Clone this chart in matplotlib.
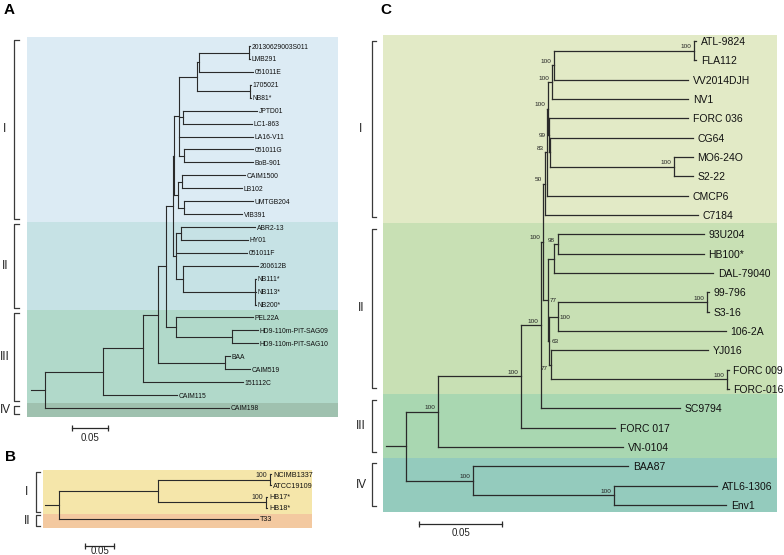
import matplotlib
matplotlib.use("Agg")
import matplotlib.pyplot as plt
import matplotlib.transforms as mtransforms
from matplotlib.collections import LineCollection

plt.rcParams['font.family'] = ['Liberation Sans', 'DejaVu Sans']

# ---------------------------------------------------------------- data
# Panel A clades (Newick pieces, branch lengths in substitutions/site)
A_P1 = "(20130629003S011:0.0014,LMB291:0.0014):0.0694"
A_P2 = "(1705021:0.0014,NB81*:0.0014):0.0736"
A_A1 = "((" + A_P1 + ",051011E:0.0750):0.0028," + A_P2 + "):0.0250"
A_JL = "(JPTD01:0.1028,LC1-863:0.0958):0.0056"
A_GB = "(051011G:0.0958,BoB-901:0.0958):0.0069"
A_IA = "(" + A_A1 + "," + A_JL + ",LA16-V11:0.1028," + A_GB + "):0.0069"
A_IB = "((CAIM1500:0.0875,LB102:0.0833):0.0056,(UMTGB204:0.0958,VIB391:0.0806):0.0083):0.0056"
A_I = "(" + A_IA + "," + A_IB + "):0.0014"
A_II = ("((ABR2-13:0.1028,HY01:0.0931):0.0069,051011F:0.0986,"
        "(200612B:0.1042,(NB111*:0.0014,NB113*:0.0014,NB200*:0.0014):0.1000):0.0097):0.0042")
A_PH = "(PEL22A:0.1069,(HD9-110m-PIT-SAG09:0.0361,HD9-110m-PIT-SAG10:0.0361):0.0778):0.0139"
A_BC = "(BAA:0.0069,CAIM519:0.0347):0.0931"
A_N4 = "((" + A_I + "," + A_II + "):0.0097," + A_PH + "):0.0111"
A_TREE = "((((" + A_N4 + "," + A_BC + "):0.0208,151112C:0.1389):0.0556,CAIM115:0.1028):0.0806,CAIM198:0.2556):0.0194;"
A_CLADES = ["I", "II", "III", "IV"]
A_CLADE_EDGES = [-0.7, 13.6, 20.45, 27.65, 28.7]

# Panel B
B_TREE = ("(((NCIMB1337:0.0017,ATCC19109:0.0017)100:0.1931,"
          "(HB17*:0.0017,HB18*:0.0017)100:0.1862):0.1707,T33:0.3431):0.0241;")
B_CLADES = ["I", "II"]
B_CLADE_EDGES = [-0.4, 3.55, 4.85]

# Panel C (support suffix: r = right of node, c = left-centre, b = left-below)
C_AF = "(ATL-9824:0.0013,FLA112:0.0013)100:0.0843"
C_V = "(" + C_AF + ",VV2014DJH:0.0807)100:0.0011"
C_W = "(" + C_V + ",NV1:0.0818)100:0.0027"
C_MS = "(MO6-24O:0.0114,S2-22:0.0114)100:0.0747"
C_K = "(FORC 036:0.0839,(CG64:0.0861," + C_MS + "):0.0006)99c:0.0006"
C_X = "(" + C_W + "," + C_K + ")100:0.0006"
C_I = "((" + C_X + ",CMCP6:0.0851)83:0.0012,C7184:0.0922)50:0.0009"
C_U = "((93U204:0.0881,HB100*:0.0881)98:0.0024,DAL-79040:0.0961):0.0031"
C_P = "((99-796:0.0010,S3-16:0.0010)100:0.0901,106-2A:0.1014)100r:0.0049"
C_R = "(YJ016:0.0946,(FORC 009:0.0010,FORC-016:0.0010)100:0.1062)77b:0.0009"
C_II = "(" + C_U + ",(" + C_P + "," + C_R + ")63r:0.0006)77r:0.0030"
C_NB = "((" + C_I + "," + C_II + ")100:0.0015,SC9794:0.0837)100:0.0120"
C_IV = "(BAA87:0.0934,(ATL6-1306:0.0620,Env1:0.0675)100:0.0849)100:0.0404"
C_TREE = "(((" + C_NB + ",FORC 017:0.0566)100:0.0500,VN-0104:0.1114)100:0.0193," + C_IV + "):0.0120;"
C_CLADES = ["I", "II", "III", "IV"]
C_CLADE_EDGES = [-0.31, 9.4, 18.27, 21.55, 24.36]

SCALE_LEN = 0.05

# ---------------------------------------------------------------- helpers
W_PX, H_PX = 784, 555
fig = plt.figure(figsize=(W_PX / 100, H_PX / 100), dpi=100)


def parse_newick(s):
    pos = [0]

    def node():
        n = {'children': [], 'name': '', 'length': 0.0}
        if s[pos[0]] == '(':
            pos[0] += 1
            while True:
                n['children'].append(node())
                ch = s[pos[0]]
                pos[0] += 1
                if ch == ')':
                    break
        st = pos[0]
        while s[pos[0]] not in ':,();':
            pos[0] += 1
        n['name'] = s[st:pos[0]].strip()
        if s[pos[0]] == ':':
            pos[0] += 1
            st = pos[0]
            while s[pos[0]] not in ',();':
                pos[0] += 1
            n['length'] = float(s[st:pos[0]])
        return n
    return node()


def layout(n, x, counter):
    n['x'] = x
    if not n['children']:
        n['y'] = counter[0]
        counter[0] += 1
    else:
        for c in n['children']:
            layout(c, x + c['length'], counter)
        n['y'] = (n['children'][0]['y'] + n['children'][-1]['y']) / 2.0


def walk(n, out):
    out.append(n)
    for c in n['children']:
        walk(c, out)
    return out


def px_axes(x0, y0, x1, y1):
    return fig.add_axes([x0 / W_PX, 1 - y1 / H_PX, (x1 - x0) / W_PX, (y1 - y0) / H_PX])


LINE = '#2a2a2a'


def draw_panel(box, newick, xlim, ylim, edges, colors, clades, lw, tip_fs, tip_off,
               sup_fs, br_x, lab_x, br_inset, bar_x, bar_y, bar_text_y, letter, letter_xy,
               num_fs):
    ax = px_axes(*box)
    ax.set_xlim(*xlim)
    ax.set_ylim(*ylim)
    ax.axis('off')
    for (y0, y1), col in zip(zip(edges[:-1], edges[1:]), colors):
        ax.axhspan(y0, y1, color=col, lw=0, zorder=0)

    tree = parse_newick(newick)
    layout(tree, 0.0, [0])
    segs = [[(-tree['length'], tree['y']), (0.0, tree['y'])]]
    for n in walk(tree, []):
        if n['children']:
            ys = [c['y'] for c in n['children']]
            segs.append([(n['x'], min(ys)), (n['x'], max(ys))])
            for c in n['children']:
                segs.append([(n['x'], c['y']), (c['x'], c['y'])])
            if n['name']:
                nm = n['name']
                side = nm[-1] if nm[-1] in 'rcb' else 'l'
                val = nm.rstrip('rcb')
                opts = {'l': ((-2.2, 1.0), 'right', 'bottom'),
                        'c': ((-2.2, 0.0), 'right', 'center_baseline'),
                        'b': ((-2.2, -0.8), 'right', 'top'),
                        'r': ((1.2, 0.0), 'left', 'center_baseline')}[side]
                ax.annotate(val, (n['x'], n['y']), xytext=opts[0], textcoords='offset points',
                            ha=opts[1], va=opts[2], fontsize=sup_fs, color='#222222',
                            annotation_clip=False)
        else:
            ax.annotate(n['name'], (n['x'], n['y']), xytext=(tip_off, 0),
                        textcoords='offset points', ha='left', va='center_baseline',
                        fontsize=tip_fs, color='#111111', annotation_clip=False)
    ax.add_collection(LineCollection(segs, colors=LINE, linewidths=lw,
                                     capstyle='projecting', zorder=3))

    # clade brackets on the left
    tr = mtransforms.blended_transform_factory(fig.transFigure, ax.transData)
    for (y0, y1), lab in zip(zip(edges[:-1], edges[1:]), clades):
        a, b = y0 + br_inset, y1 - br_inset
        ax.plot([br_x[1] / W_PX, br_x[0] / W_PX, br_x[0] / W_PX, br_x[1] / W_PX], [a, a, b, b],
                transform=tr, color='#3a3a3a', lw=0.9, clip_on=False)
        ax.text(lab_x / W_PX, (a + b) / 2, lab, transform=tr, ha='center', va='center',
                fontsize=num_fs, color='#222222')

    # scale bar
    ax.plot([bar_x, bar_x + SCALE_LEN], [bar_y, bar_y], color=LINE, lw=0.9,
            marker='|', markersize=5, mew=0.9, clip_on=False)
    ax.text(bar_x + SCALE_LEN / 2, bar_text_y, '0.05', ha='center', va='center',
            fontsize=7, color='#222222', clip_on=False)
    fig.text(letter_xy[0] / W_PX, 1 - letter_xy[1] / H_PX, letter, ha='center', va='center',
             fontsize=11, fontweight='bold')
    return ax


draw_panel(box=(27, 37, 338, 417), newick=A_TREE, xlim=(-0.025, 0.407), ylim=(28.7, -0.7),
           edges=A_CLADE_EDGES, colors=['#dcebf4', '#c6e2e5', '#b1d9ca', '#9fc1af'],
           clades=A_CLADES, lw=0.8, tip_fs=4.9, tip_off=1.3, sup_fs=4.6,
           br_x=(14, 18.5), lab_x=5, br_inset=0.2, bar_x=0.0375, bar_y=29.55,
           bar_text_y=30.3, letter='A', letter_xy=(9, 10), num_fs=8.5)

draw_panel(box=(43, 470, 312, 528), newick=B_TREE, xlim=(-0.0276, 0.436), ylim=(4.85, -0.4),
           edges=B_CLADE_EDGES, colors=['#f5e6aa', '#f3c9a0'],
           clades=B_CLADES, lw=0.8, tip_fs=5.2, tip_off=1.3, sup_fs=5.0,
           br_x=(35.7, 39.5), lab_x=27, br_inset=0.15, bar_x=0.0448, bar_y=6.45,
           bar_text_y=6.95, letter='B', letter_xy=(11, 457), num_fs=8.5)

draw_panel(box=(383, 35, 777, 512), newick=C_TREE, xlim=(-0.0139, 0.2235), ylim=(24.36, -0.31),
           edges=C_CLADE_EDGES, colors=['#e2eac6', '#c8e0b4', '#a9d7b1', '#94cbbd'],
           clades=C_CLADES, lw=0.9, tip_fs=7.5, tip_off=3.3, sup_fs=4.6,
           br_x=(371.5, 376), lab_x=361, br_inset=0.3, bar_x=0.0078, bar_y=24.98,
           bar_text_y=25.47, letter='C', letter_xy=(386, 10), num_fs=8.5)

fig.savefig('out.png', dpi=100)
